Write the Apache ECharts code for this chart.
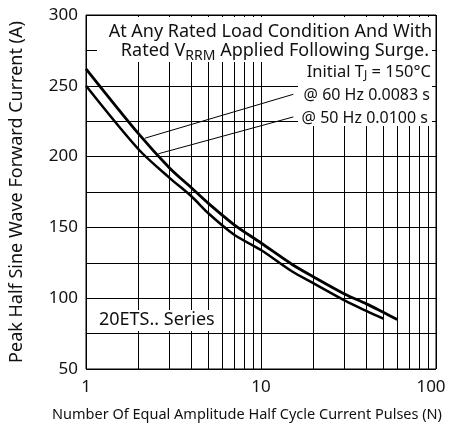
<!DOCTYPE html>
<html>
<head>
<meta charset="utf-8">
<script src="https://cdn.jsdelivr.net/npm/echarts@6/dist/echarts.min.js"></script>
<style>
html,body{margin:0;padding:0;background:#fff;}
#chart{width:452px;height:430px;}
</style>
</head>
<body>
<div id="chart"></div>
<script>
// curve data
var pulses60 = [1, 2, 3, 4, 5, 7, 10, 15, 20, 30, 40, 50, 60];
var current60 = [262, 216, 192, 178, 167, 152, 139, 124, 115, 103, 96, 90, 85];
var pulses50 = [1, 2, 3, 4, 5, 7, 10, 15, 20, 30, 40, 50];
var current50 = [250, 205, 185, 172, 160, 145, 134, 119, 110.5, 98.5, 91, 85.5];
// leader lines from the legend text to the curves
var lead60 = [[2.17, 213], [15.3, 244]];
var lead50 = [[2.59, 202], [15.3, 228]];
// minor vertical grid on the log axis
var minorX = [2, 3, 4, 5, 6, 7, 8, 9, 20, 30, 40, 50, 60, 70, 80, 90];

var FONT = 'Noto Sans';
var INK = '#111';

function pairs(xs, ys){
	var out = [];
	for (var i = 0; i < xs.length; i++) out.push([xs[i], ys[i]]);
	return out;
}

var myChart = echarts.init(document.getElementById('chart'));
var option = {
	animation: false,
	grid: {
		left: 86, right: 16, top: 15, bottom: 61,
		outerBoundsMode: 'none', containLabel: false,
		show: true, borderColor: '#000', borderWidth: 1
	},
	xAxis: {
		type: 'log', logBase: 10, min: 1, max: 100,
		name: 'Number Of Equal Amplitude Half Cycle Current Pulses (N)',
		nameLocation: 'middle', nameGap: 38,
		nameTextStyle: {fontFamily: FONT, fontSize: 14.5, color: INK, padding: [0, 28, 0, 0]},
		axisLine: {show: false},
		axisTick: {show: false},
		axisLabel: {
			fontFamily: FONT, fontSize: 17, color: INK, margin: 10,
			formatter: function(v){ return v == 100 ? '{r|100}' : v; },
			rich: {r: {fontFamily: FONT, fontSize: 17, color: INK, padding: [0, 10, 0, 0]}}
		},
		splitLine: {show: true, lineStyle: {color: '#000', width: 1}}
	},
	yAxis: {
		type: 'value', min: 50, max: 300, interval: 25,
		name: 'Peak Half Sine Wave Forward Current (A)',
		nameLocation: 'middle', nameGap: 60,
		nameTextStyle: {fontFamily: FONT, fontSize: 18, color: INK},
		axisLine: {show: false},
		axisTick: {show: false},
		axisLabel: {
			fontFamily: FONT, fontSize: 17, color: INK, margin: 8,
			formatter: function(v){ return v % 50 == 0 ? v : ''; }
		},
		splitLine: {show: true, lineStyle: {color: '#000', width: 1}}
	},
	series: [
		{
			name: '@ 60 Hz 0.0083 s', type: 'line', data: pairs(pulses60, current60),
			smooth: 0.3, symbol: 'none', lineStyle: {color: '#000', width: 2.8}, z: 5,
			markLine: {
				silent: true, symbol: 'none', animation: false,
				label: {show: false},
				lineStyle: {color: '#000', width: 1, type: 'solid'},
				data: minorX.map(function(v){ return {xAxis: v}; })
			}
		},
		{
			name: '@ 50 Hz 0.0100 s', type: 'line', data: pairs(pulses50, current50),
			smooth: 0.3, symbol: 'none', lineStyle: {color: '#000', width: 2.5}, z: 5
		},
		{
			type: 'line', data: lead60, symbol: 'none',
			lineStyle: {color: '#000', width: 1}, z: 5
		},
		{
			type: 'line', data: lead50, symbol: 'none',
			lineStyle: {color: '#000', width: 1}, z: 5
		}
	],
	graphic: [
		{type: 'rect', shape: {x: 97, y: 17, width: 335, height: 45}, style: {fill: '#fff'}, z: 50},
		{type: 'rect', shape: {x: 298, y: 62, width: 134, height: 64}, style: {fill: '#fff'}, z: 50},
		{type: 'rect', shape: {x: 95, y: 310, width: 127, height: 21}, style: {fill: '#fff'}, z: 50},
		{type: 'text', x: 432, y: 32, z: 60, style: {
			text: 'At Any Rated Load Condition And With', align: 'right', verticalAlign: 'middle',
			font: '18px "' + FONT + '"', fill: INK}},
		{type: 'text', x: 429, y: 51, z: 60, style: {
			text: 'Rated V{s|RRM} Applied Following Surge.', align: 'right', verticalAlign: 'middle',
			font: '18px "' + FONT + '"', fill: INK,
			rich: {s: {fontFamily: FONT, fontSize: 14, fill: INK, padding: [10, 0, 0, 0]}}}},
		{type: 'text', x: 431, y: 72, z: 60, style: {
			text: 'Initial T{s|J} = 150°C', align: 'right', verticalAlign: 'middle',
			font: '16.5px "' + FONT + '"', fill: INK,
			rich: {s: {fontFamily: FONT, fontSize: 12, fill: INK, padding: [8, 0, 0, 0]}}}},
		{type: 'text', x: 430, y: 95, z: 60, style: {
			text: '@ 60 Hz 0.0083 s', align: 'right', verticalAlign: 'middle',
			font: '16px "' + FONT + '"', fill: INK}},
		{type: 'text', x: 428, y: 118, z: 60, style: {
			text: '@ 50 Hz 0.0100 s', align: 'right', verticalAlign: 'middle',
			font: '16px "' + FONT + '"', fill: INK}},
		{type: 'text', x: 99, y: 320, z: 60, style: {
			text: '20ETS.. Series', align: 'left', verticalAlign: 'middle',
			font: '18px "' + FONT + '"', fill: INK}}
	]
};
myChart.setOption(option);
</script>
</body>
</html>
